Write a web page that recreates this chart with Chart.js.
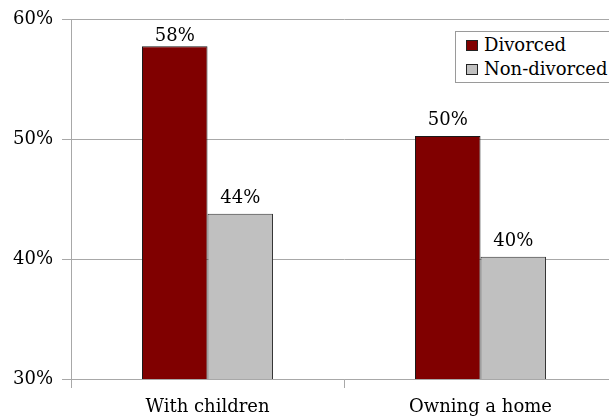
<!DOCTYPE html>
<html lang="en">
  <head>
    <meta charset="UTF-8" />
    <title>Divorced vs Non-divorced</title>
    <script src="https://cdn.jsdelivr.net/npm/chart.js"></script>
    <style>
      body {
        margin: 0;
        background-color: #ffffff;
        overflow: hidden;
      }
      #wrap {
        position: relative;
        width: 609px;
        height: 419px;
        overflow: hidden;
      }
      #legend {
        position: absolute;
        left: 455px;
        top: 31px;
        width: 170px;
        height: 50px;
        border: 1px solid #9a9a9a;
        background: #ffffff;
        font-family: "DejaVu Serif", serif;
        font-size: 18px;
        color: #000;
      }
      .item {
        position: absolute;
        left: 12px;
        white-space: nowrap;
        line-height: 22px;
      }
      .sw {
        display: inline-block;
        width: 10px;
        height: 9px;
        border: 1px solid #222;
        margin-right: 6px;
        vertical-align: 0px;
      }
    </style>
  </head>
  <body>
    <div id="wrap">
      <canvas id="chart" width="617" height="419"></canvas>
      <div id="legend"></div>
    </div>
    <script>
      const categories = ["With children", "Owning a home"];
      const seriesNames = ["Divorced", "Non-divorced"];
      const divorced = [57.8, 50.3];
      const nonDivorced = [43.8, 40.2];
      const valueLabels = [["58%", "50%"], ["44%", "40%"]];
      const yTicks = [30, 40, 50, 60];
      const colors = ["#800000", "#c0c0c0"];

      const font = { family: "'DejaVu Serif', serif", size: 18 };

      // legend in html, sits inside the plot
      const legend = document.getElementById("legend");
      seriesNames.forEach(function (name, i) {
        const d = document.createElement("div");
        d.className = "item";
        d.style.left = "10px";
        d.style.top = (2 + i * 24) + "px";
        d.innerHTML =
          '<span class="sw" style="background:' + colors[i] + '"></span>' + name;
        legend.appendChild(d);
      });

      // values above bars, kept inside the plot like excel does
      const valueLabelPlugin = {
        id: "valueLabels",
        afterDatasetsDraw(chart) {
          const ctx = chart.ctx;
          const top = chart.chartArea.top;
          ctx.save();
          ctx.font = font.size + "px " + font.family;
          ctx.fillStyle = "#000";
          ctx.textAlign = "center";
          ctx.textBaseline = "alphabetic";
          chart.data.datasets.forEach(function (ds, di) {
            chart.getDatasetMeta(di).data.forEach(function (bar, i) {
              const y = Math.max(bar.y - 11, top + 21);
              ctx.fillText(valueLabels[di][i], bar.x, y);
            });
          });
          ctx.restore();
        },
      };

      new Chart(document.getElementById("chart"), {
        type: "bar",
        data: {
          labels: categories,
          datasets: [
            {
              label: seriesNames[0],
              data: divorced,
              backgroundColor: colors[0],
              borderColor: "#1a1a1a",
              borderWidth: 1,
              categoryPercentage: 0.48,
              barPercentage: 1,
            },
            {
              label: seriesNames[1],
              data: nonDivorced,
              backgroundColor: colors[1],
              borderColor: "#333333",
              borderWidth: 1,
              categoryPercentage: 0.48,
              barPercentage: 1,
            },
          ],
        },
        options: {
          responsive: false,
          animation: false,
          layout: { padding: { top: 19, right: 0, left: 0, bottom: 0 } },
          plugins: {
            legend: { display: false },
            tooltip: { enabled: false },
          },
          scales: {
            x: {
              grid: {
                offset: true,
                drawOnChartArea: false,
                tickLength: 9,
                color: "#a8a8a8",
              },
              border: { color: "#a8a8a8" },
              ticks: { color: "#000", font: font, padding: 9 },
              afterFit(scale) {
                scale.height = 40;
              },
            },
            y: {
              min: 30,
              max: 60,
              afterBuildTicks(scale) {
                scale.ticks = yTicks.map((v) => ({ value: v }));
              },
              grid: { color: "#a8a8a8", tickLength: 9 },
              border: { color: "#a8a8a8" },
              ticks: {
                color: "#000",
                font: font,
                padding: 9,
                callback: function (value) {
                  return value + "%";
                },
              },
              afterFit(scale) {
                scale.width = 71;
              },
            },
          },
        },
        plugins: [valueLabelPlugin],
      });
    </script>
  </body>
</html>
